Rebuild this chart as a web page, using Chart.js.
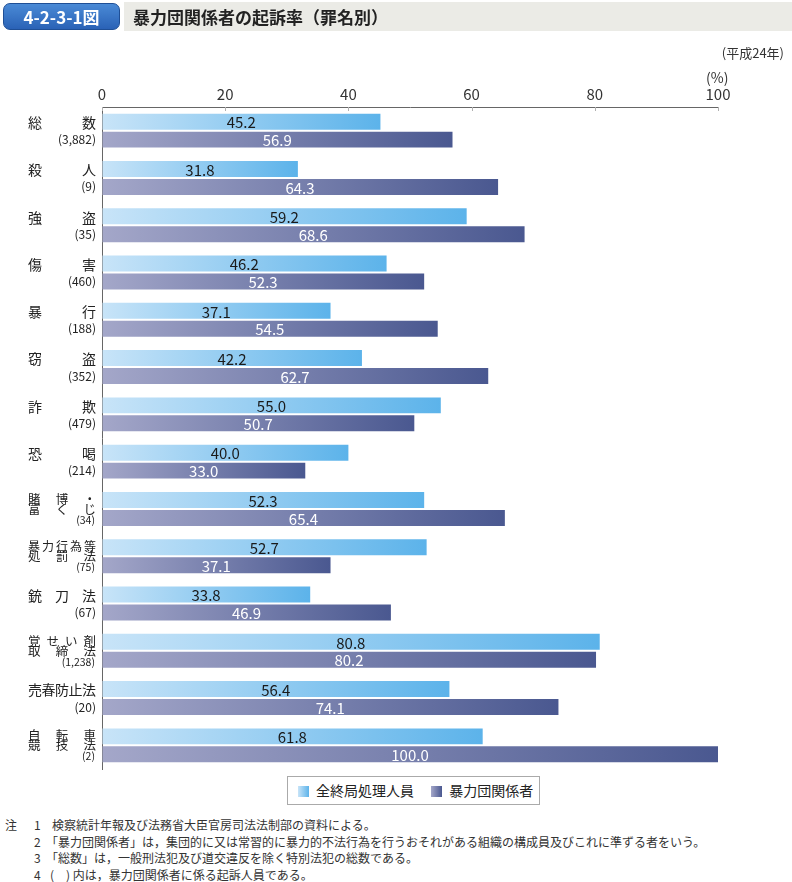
<!DOCTYPE html>
<html>
<head>
<meta charset="utf-8">
<script src="https://cdn.jsdelivr.net/npm/chart.js@4"></script>
<style>
  body { margin: 0; background: #fff; font-family: "Noto Sans CJK JP", sans-serif; color: #222; }
  #page { position: relative; width: 792px; height: 882px; overflow: hidden; }
  #chartBox { position: absolute; left: 0; top: 0; width: 792px; height: 772px; }
  .abs { position: absolute; white-space: nowrap; }
  #badge { left: 3px; top: 3px; width: 115px; height: 25px; border-radius: 7px;
           background: linear-gradient(#4a8ad6, #2a62b6); border: 1px solid #1f4f96;
           color: #fff; font-weight: bold; font-size: 17px; line-height: 25px; text-align: center; }
  #band { left: 124px; top: 2px; width: 668px; height: 29px; background: #ebebe6; }
  #title { left: 133px; top: 4px; font-size: 17px; font-weight: bold; line-height: 25px; color: #222; }
  #legend { left: 287px; top: 776px; width: 251px; height: 27px; border: 1px solid #aaa; font-size: 14px; line-height: 27px; }
  .mark { display: inline-block; width: 11px; height: 11px; vertical-align: -1px; margin-right: 7px; }
  .note { font-size: 12px; color: #333; }
</style>
</head>
<body>
<div id="page">
  <div id="chartBox"><canvas id="chart" width="792" height="772"></canvas></div>
  <div class="abs" id="band"></div>
  <div class="abs" id="badge">4-2-3-1図</div>
  <div class="abs" id="title">暴力団関係者の起訴率（罪名別）</div>
  <div class="abs" style="right:8px; top:43px; font-size:13px; color:#333;">(平成24年)</div>
  <div class="abs" style="left:706px; top:67px; font-size:14px; color:#333;">(%)</div>
  <div class="abs" id="legend">
    <span style="margin-left:10px"><span class="mark" style="background:linear-gradient(90deg,#c8e4f8,#5cb3ea)"></span>全終局処理人員</span>
    <span style="margin-left:14px"><span class="mark" style="background:linear-gradient(90deg,#a4a7c9,#4a5890)"></span>暴力団関係者</span>
  </div>
  <div class="abs note" style="left:5px; top:816px;">注</div>
  <div class="abs note" style="left:34px; top:816px;">1</div>
  <div class="abs note" style="left:52px; top:816px;">検察統計年報及び法務省大臣官房司法法制部の資料による。</div>
  <div class="abs note" style="left:34px; top:833px;">2</div>
  <div class="abs note" style="left:46px; top:833px;">「暴力団関係者」は，集団的に又は常習的に暴力的不法行為を行うおそれがある組織の構成員及びこれに準ずる者をいう。</div>
  <div class="abs note" style="left:34px; top:849px;">3</div>
  <div class="abs note" style="left:46px; top:849px;">「総数」は，一般刑法犯及び道交違反を除く特別法犯の総数である。</div>
  <div class="abs note" style="left:34px; top:866px;">4</div>
  <div class="abs note" style="left:50px; top:866px;">(　) 内は，暴力団関係者に係る起訴人員である。</div>
</div>
<script>
// 罪名
const categories = ['総数', '殺人', '強盗', '傷害', '暴行', '窃盗', '詐欺', '恐喝',
  '賭博・富くじ', '暴力行為等処罰法', '銃刀法', '覚せい剤取締法', '売春防止法', '自転車競技法'];
// how each name is split onto lines at the left
const labelLines = [['総数'], ['殺人'], ['強盗'], ['傷害'], ['暴行'], ['窃盗'], ['詐欺'], ['恐喝'],
  ['賭博・', '富くじ'], ['暴力行為等', '処罰法'], ['銃刀法'], ['覚せい剤', '取締法'], ['売春防止法'], ['自転車', '競技法']];
const counts = ['3,882', '9', '35', '460', '188', '352', '479', '214', '34', '75', '67', '1,238', '20', '2'];
const allRate = [45.2, 31.8, 59.2, 46.2, 37.1, 42.2, 55.0, 40.0, 52.3, 52.7, 33.8, 80.8, 56.4, 61.8];
const gangRate = [56.9, 64.3, 68.6, 52.3, 54.5, 62.7, 50.7, 33.0, 65.4, 37.1, 46.9, 80.2, 74.1, 100.0];
const xTicks = [0, 20, 40, 60, 80, 100];

const FONT = '"Noto Sans CJK JP", sans-serif';

function barGradient(c1, c2) {
    return function (context) {
        const chart = context.chart;
        const x = chart.scales.x;
        if (!x || typeof context.raw !== 'number') return c2;
        const x0 = x.getPixelForValue(0);
        const x1 = x.getPixelForValue(context.raw);
        if (!isFinite(x0) || !isFinite(x1)) return c2;
        const g = chart.ctx.createLinearGradient(x0, 0, Math.max(x1, x0 + 1), 0);
        g.addColorStop(0, c1);
        g.addColorStop(1, c2);
        return g;
    };
}

// justified text across a fixed span
function drawJustified(ctx, text, left, right, y, size) {
    const chars = Array.from(text);
    ctx.font = size + 'px ' + FONT;
    if (chars.length === 1) {
        ctx.textAlign = 'right';
        ctx.fillText(chars[0], right, y);
        return;
    }
    const w = ctx.measureText(chars[0]).width;
    const step = (right - left - w) / (chars.length - 1);
    ctx.textAlign = 'left';
    chars.forEach((ch, i) => ctx.fillText(ch, left + i * step, y));
}

const sidePlugin = {
    id: 'side',
    afterDraw(chart) {
        const ctx = chart.ctx;
        const y = chart.scales.y;
        const x = chart.scales.x;
        const area = chart.chartArea;
        ctx.save();
        // small ticks under the top axis
        ctx.strokeStyle = '#b0b0b0';
        ctx.lineWidth = 1;
        xTicks.forEach(v => {
            const px = Math.round(x.getPixelForValue(v)) + 0.5;
            ctx.beginPath();
            ctx.moveTo(px, area.top);
            ctx.lineTo(px, area.top + 4);
            ctx.stroke();
        });
        ctx.fillStyle = '#222';
        ctx.textBaseline = 'middle';
        labelLines.forEach((lines, i) => {
            const cy = y.getPixelForValue(i);
            if (lines.length === 1) {
                drawJustified(ctx, lines[0], 28, 96, cy - 8, 14);
                ctx.font = '12px ' + FONT;
                ctx.textAlign = 'right';
                ctx.fillText('(' + counts[i] + ')', 96, cy + 9);
            } else {
                const size = lines[0].length > 4 ? 12 : 12.5;
                drawJustified(ctx, lines[0], 28, 96, cy - 10, size);
                drawJustified(ctx, lines[1], 28, 96, cy, 12.5);
                ctx.font = '10.5px ' + FONT;
                ctx.textAlign = 'right';
                ctx.fillText('(' + counts[i] + ')', 95, cy + 11);
            }
        });
        // values on bars
        ctx.font = '15px ' + FONT;
        ctx.textAlign = 'center';
        chart.data.datasets.forEach((ds, di) => {
            const meta = chart.getDatasetMeta(di);
            ctx.fillStyle = di === 0 ? '#1a1a1a' : '#ffffff';
            meta.data.forEach((bar, i) => {
                const x0 = x.getPixelForValue(0);
                ctx.fillText(ds.data[i].toFixed(1), (x0 + bar.x) / 2, bar.y + 1);
            });
        });
        ctx.restore();
    }
};

new Chart(document.getElementById('chart'), {
    type: 'bar',
    data: {
        labels: categories,
        datasets: [
            { label: '全終局処理人員', data: allRate, backgroundColor: barGradient('#c8e4f8', '#5cb3ea'),
              categoryPercentage: 0.76, barPercentage: 0.89 },
            { label: '暴力団関係者', data: gangRate, backgroundColor: barGradient('#a4a7c9', '#4a5890'),
              categoryPercentage: 0.76, barPercentage: 0.89 }
        ]
    },
    options: {
        indexAxis: 'y',
        responsive: false,
        animation: false,
        layout: { padding: { left: 102, right: 74, top: 0, bottom: 3 } },
        plugins: { legend: { display: false }, tooltip: { enabled: false } },
        scales: {
            x: {
                position: 'top',
                min: 0, max: 100,
                afterFit(scale) { scale.height = 107; },
                afterBuildTicks(scale) { scale.ticks = xTicks.map(v => ({ value: v })); },
                grid: { display: true, drawOnChartArea: false, drawTicks: false },
                border: { display: true, color: '#666', width: 1 },
                ticks: { padding: 4, color: '#333', font: { family: FONT, size: 15 } }
            },
            y: {
                afterFit(scale) { scale.width = 0; },
                grid: { display: true, drawOnChartArea: false, drawTicks: false },
                border: { display: true, color: '#666', width: 1 },
                ticks: { display: false }
            }
        }
    },
    plugins: [sidePlugin]
});
</script>
</body>
</html>
